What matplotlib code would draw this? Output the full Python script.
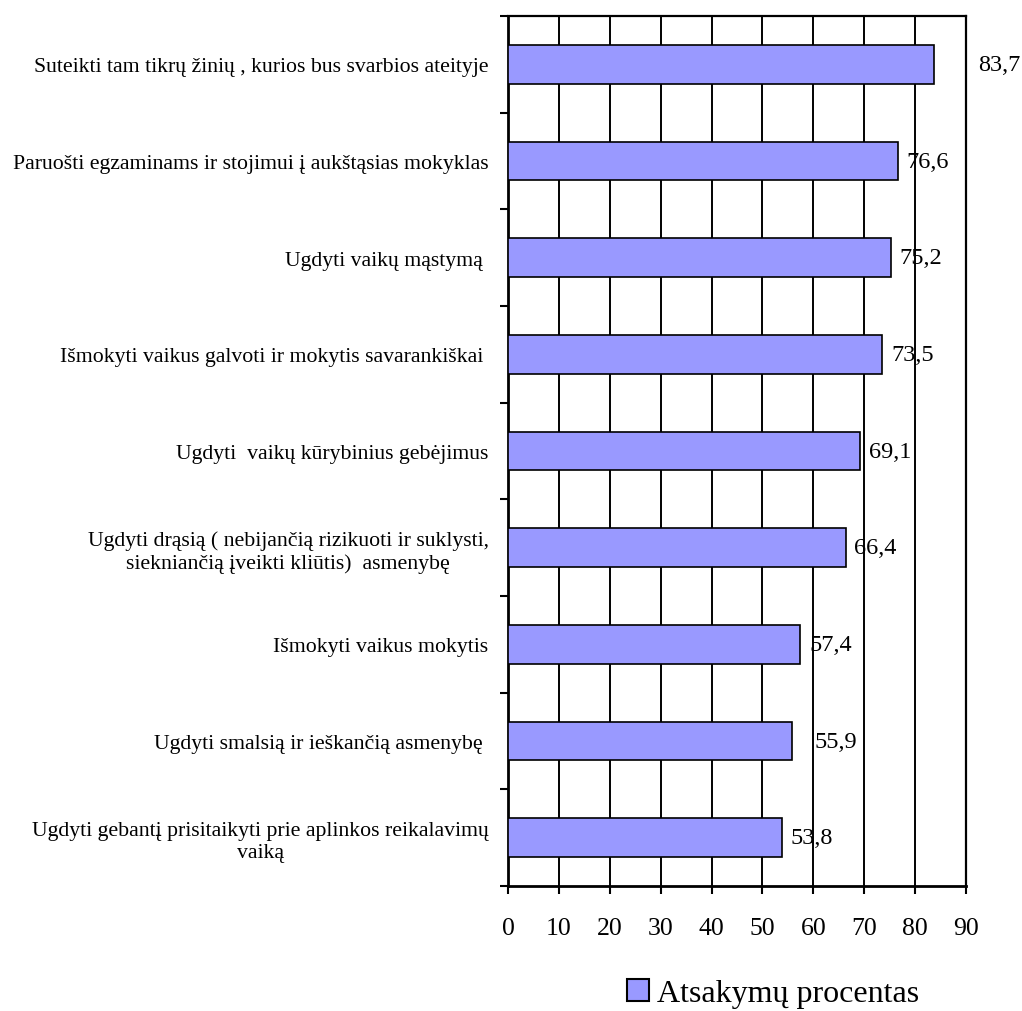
import matplotlib
matplotlib.use('Agg')

import matplotlib.pyplot as plt
from matplotlib.patches import Patch

categories = [
    'Suteikti tam tikrų žinių , kurios bus svarbios ateityje',
    'Paruošti egzaminams ir stojimui į aukštąsias mokyklas',
    'Ugdyti vaikų mąstymą ',
    'Išmokyti vaikus galvoti ir mokytis savarankiškai ',
    'Ugdyti  vaikų kūrybinius gebėjimus',
    'Ugdyti drąsią ( nebijančią rizikuoti ir suklysti,\nsiekniančią įveikti kliūtis)  asmenybę',
    'Išmokyti vaikus mokytis',
    'Ugdyti smalsią ir ieškančią asmenybę ',
    'Ugdyti gebantį prisitaikyti prie aplinkos reikalavimų\nvaiką',
]
values = [83.7, 76.6, 75.2, 73.5, 69.1, 66.4, 57.4, 55.9, 53.8]
value_labels = ['83,7', '76,6', '75,2', '73,5', '69,1', '66,4', '57,4', '55,9', '53,8']
x_ticks = [0, 10, 20, 30, 40, 50, 60, 70, 80, 90]
series_name = 'Atsakymų procentas'

# label offsets from bar end, in points (as in the original layout)
label_offsets = [32, 6.5, 6, 6.5, 6.5, 6, 7, 16, 6.5]

plt.rcParams['font.family'] = ['Liberation Serif', 'DejaVu Serif']

bar_color = '#9999ff'

fig = plt.figure(figsize=(10.22, 10.12), dpi=100)
ax = fig.add_axes([508 / 1022, 1 - 887 / 1012, 458 / 1022, 870 / 1012])

n = len(categories)
pos = [n - 1 - i for i in range(n)]

ax.barh(pos, values, height=0.4, color=bar_color, edgecolor='black',
        linewidth=1.2, zorder=3)

for p, v, lab, off in zip(pos, values, value_labels, label_offsets):
    ax.annotate(lab, (v, p), xytext=(off, 0), textcoords='offset points',
                va='center', ha='left', fontsize=17.5, zorder=4)

ax.set_xlim(0, 90)
ax.set_ylim(-0.5, n - 0.5)
ax.set_xticks(x_ticks)
ax.set_xticklabels([str(t) for t in x_ticks], fontsize=18.5)
ax.tick_params(axis='x', direction='out', length=6, width=1.5, pad=16)

ax.set_yticks(pos)
ax.set_yticklabels(categories, fontsize=15.7, multialignment='center')
ax.tick_params(axis='y', which='major', length=0, pad=14)
ax.set_yticks([k - 0.5 for k in range(n + 1)], minor=True)
ax.tick_params(axis='y', which='minor', direction='out', length=6, width=1.5)

ax.grid(axis='x', color='black', linewidth=1.4, zorder=0)
ax.set_axisbelow(True)

for side in ['left', 'bottom']:
    ax.spines[side].set_linewidth(2.0)
for side in ['top', 'right']:
    ax.spines[side].set_linewidth(1.6)

handle = Patch(facecolor=bar_color, edgecolor='black', linewidth=1.5)
fig.legend([handle], [series_name], loc='upper left',
           bbox_to_anchor=(627 / 1022, 1 - 980 / 1012), frameon=False,
           fontsize=23, handlelength=0.7, handleheight=0.7,
           handletextpad=0.25, borderpad=0, borderaxespad=0)

plt.savefig('out.png', dpi=100)
